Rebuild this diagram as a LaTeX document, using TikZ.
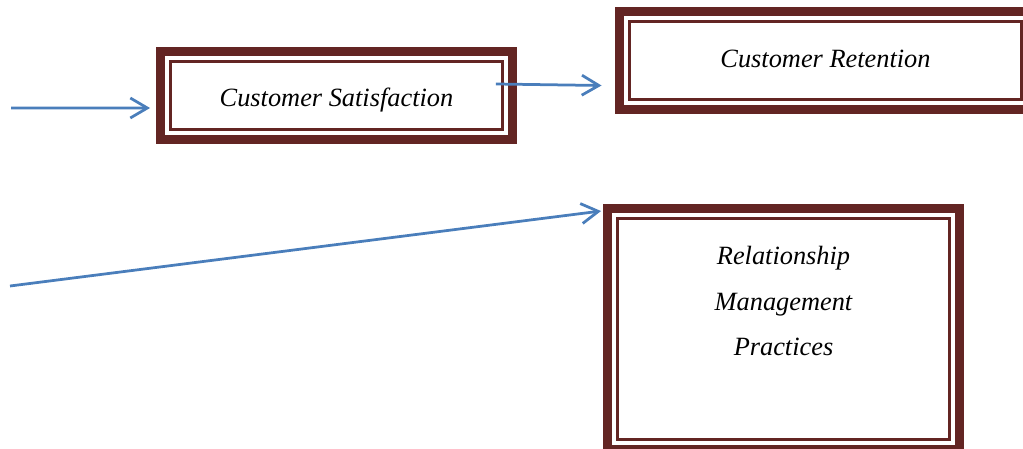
\documentclass[tikz,border=0pt]{standalone}
\usepackage{fontspec}
\setmainfont{Liberation Serif}
\usetikzlibrary{arrows.meta}
\definecolor{rimbrown}{RGB}{99,37,35}
\definecolor{arrowblue}{RGB}{74,126,187}
\tikzset{
  framebox/.style={draw=rimbrown, line width=1.8mm, outer sep=0pt, inner sep=0pt},
  innerframe/.style={draw=rimbrown, line width=0.45mm},
  lbl/.style={font=\itshape\fontsize{15}{26}\selectfont, align=center},
  flow/.style={->, draw=arrowblue, line width=0.55mm}
}
\begin{document}
\begin{tikzpicture}[x=0.02cm, y=-0.02cm, >={Straight Barb[length=3.4mm, width=4mm]}]
            \useasboundingbox (0,0) rectangle (1023,449);
            \clip (0,0) rectangle (1023,449);
            \node[framebox, minimum width=70.4mm, minimum height=17.6mm] (sat) at (336.5,95.5) {};
            \node[framebox, minimum width=82.4mm, minimum height=19.6mm] (ret) at (825.5,60.5) {};
            \node[framebox, minimum width=70.4mm, minimum height=48.2mm] (rmp) at (783.5,329) {};
            \foreach \n in {sat,ret,rmp}
                \draw[innerframe] ([shift={(10,10)}]\n.north west) rectangle ([shift={(-10,-10)}]\n.south east);
            \node[lbl] (satlabel) at ([shift={(0,5)}]sat.center) {Customer Satisfaction};
            \node[lbl] (retlabel) at ([shift={(0,-2)}]ret.center) {Customer Retention};
            \node[lbl] (rmplabel) at ([shift={(0,-28)}]rmp.center) {Relationship\\Management\\Practices};
            \coordinate (in1) at (11,108);
            \coordinate (in2) at (10,286);
            \draw[flow] (in1) -- ([shift={(-10.5,12.5)}]sat.west);
            \draw[flow] ([shift={(-16.5,-11.5)}]sat.east) -- ([shift={(-18,25)}]ret.west);
            \draw[flow] (in2) -- ([shift={(-6.5,2.5)}]rmp.north west);
        \end{tikzpicture}
\end{document}
